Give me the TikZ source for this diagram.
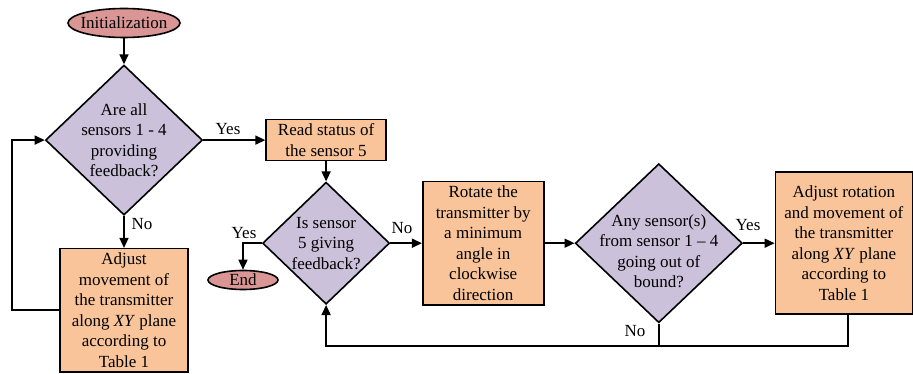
\documentclass[tikz,border=0pt]{standalone}
\usepackage{fontspec}
\setmainfont{Liberation Serif}
\usetikzlibrary{shapes.geometric,arrows.meta,positioning}
\definecolor{termred}{HTML}{D99694}
\definecolor{decpurple}{HTML}{CCC1DA}
\definecolor{procorange}{HTML}{F9C499}

\begin{document}
\begin{tikzpicture}[x=1pt, y=-1pt,
    every node/.style={font=\fontsize{17}{20.5}\selectfont},
    term/.style={ellipse, draw, line width=1.6pt, fill=termred, inner sep=0pt, minimum width=112pt, minimum height=29pt},
    decision/.style={diamond, draw, line width=1.6pt, fill=decpurple, inner sep=0pt},
    process/.style={rectangle, draw, line width=1.6pt, fill=procorange, align=center, inner sep=0pt},
    txt/.style={align=center, inner sep=0pt},
    lbl/.style={inner sep=1pt},
    arr/.style={-{Triangle[length=10pt,width=9pt]}, line width=1.6pt},
    line/.style={line width=1.6pt}
  ]
    \useasboundingbox (0,0) rectangle (913,374);

    % Start
    \node[term, label=center:Initialization] (init) at (124,23) {};

    % Sensors 1-4
    \node[decision, minimum width=157pt, minimum height=150pt, below=26pt of init,
      label={[txt]center:Are all\\sensors 1 - 4\\providing\\feedback?}] (allfb) {};
    \node[process, minimum width=128pt, minimum height=123pt, below=32pt of allfb] (adjmove) {Adjust\\movement of\\the transmitter\\along \textit{XY} plane\\according to\\Table 1};

    % Sensor 5
    \node[process, minimum width=120pt, minimum height=41pt, right=62pt of allfb] (readfive) {Read status of\\the sensor 5};
    \node[decision, minimum width=127pt, minimum height=122pt, below=20pt of readfive,
      label={[txt]center:Is sensor\\5 giving\\feedback?}] (fivefb) {};
    \node[term, minimum width=70pt, minimum height=19pt, label=center:End] (finish) at (243,280) {};

    % Rotation
    \node[process, minimum width=121pt, minimum height=123pt, right=31.5pt of fivefb] (rotate) {Rotate the\\transmitter by\\a minimum\\angle in\\clockwise\\direction};
    \node[decision, minimum width=167pt, minimum height=159pt, right=30pt of rotate,
      label={[txt, yshift=-8pt]center:Any sensor(s)\\from sensor 1 -- 4\\going out of\\bound?}] (outbound) {};
    \node[process, minimum width=137pt, minimum height=142pt, right=31.5pt of outbound] (adjrot) {Adjust rotation\\and movement of\\the transmitter\\along \textit{XY} plane\\according to\\Table 1};

    % Labels
    \node[lbl] (yesall) at (228,129) {Yes};
    \node[lbl] (noall) at (142,224) {No};
    \node[lbl] (yesfive) at (244,233) {Yes};
    \node[lbl] (nofive) at (402,228) {No};
    \node[lbl] (yesout) at (748,225) {Yes};
    \node[lbl] (noout) at (635,331) {No};

    % Arrows
    \draw[arr] (init) -- (allfb);
    \draw[arr] (allfb) -- (readfive);
    \draw[arr] (allfb) -- (adjmove);
    \draw[arr] (adjmove.west) -- ++(-47,0) |- (allfb.west);
    \draw[arr] (readfive) -- (fivefb);
    \draw[arr] (fivefb.west) -| (finish.north);
    \draw[arr] (fivefb) -- (rotate);
    \draw[arr] (rotate) -- (outbound);
    \draw[arr] (outbound) -- (adjrot);
    \coordinate (back) at ([xshift=4pt, yshift=-31pt]adjrot.south);
    \draw[arr] ([xshift=4pt]adjrot.south) -- (back) -| (fivefb.south);
    \draw[line] (outbound.south) -- (outbound.south |- back);
  \end{tikzpicture}
\end{document}
